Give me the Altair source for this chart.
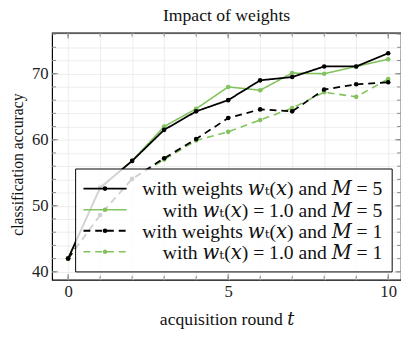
import altair as alt
import pandas as pd

# ---- data ----
rounds = list(range(11))
black_solid = [42.0, 52.7, 56.8, 61.5, 64.3, 66.0, 69.0, 69.5, 71.1, 71.1, 73.1]
green_solid = [42.0, 52.9, 56.8, 62.0, 64.7, 68.0, 67.5, 70.1, 70.0, 71.1, 72.2]
black_dashed = [42.0, 48.6, 54.1, 57.2, 60.1, 63.3, 64.6, 64.3, 67.6, 68.4, 68.7]
green_dashed = [42.0, 48.6, 54.0, 57.0, 59.9, 61.2, 63.0, 64.8, 67.2, 66.5, 69.2]

labels = [
    "with weights 𝑤ₜ(𝑥) and 𝑀 = 5",
    "with 𝑤ₜ(𝑥) = 1.0 and 𝑀 = 5",
    "with weights 𝑤ₜ(𝑥) and 𝑀 = 1",
    "with 𝑤ₜ(𝑥) = 1.0 and 𝑀 = 1",
]
series_values = [black_solid, green_solid, black_dashed, green_dashed]
BLACK = "#000000"
GREEN = "#82c35e"
colors = [BLACK, GREEN, BLACK, GREEN]
dashes = [[1, 0], [1, 0], [7, 5], [7, 5]]
widths = [1.8, 1.6, 1.8, 1.6]

x_ticks = list(range(11))
x_major = [0, 5, 10]
y_ticks = list(range(40, 77, 2))
y_major = [40, 50, 60, 70]

W, H = 356, 252
FONT = "Liberation Serif, DejaVu Serif, serif"
XDOM = [-0.5, 10.4]
YDOM = [38.8, 76.2]

xs = alt.Scale(domain=XDOM, nice=False, zero=False)
ys = alt.Scale(domain=YDOM, nice=False, zero=False)

X_AXIS = alt.Axis(
    values=x_ticks, labelExpr="datum.value % 5 == 0 ? datum.label : ''",
    labelOverlap=False,
    grid=True, gridColor="#e8e8e8", gridWidth=0.8, ticks=False, domain=False,
    labelFont=FONT, labelFontSize=17, labelColor="#222", labelPadding=4,
    title="acquisition round 𝑡", titleFont=FONT, titleFontSize=18,
    titleFontWeight="normal", titleColor="#111", titlePadding=12)
Y_AXIS = alt.Axis(
    values=y_ticks, labelExpr="datum.value % 10 == 0 ? datum.label : ''",
    labelOverlap=False,
    grid=True, gridColor="#e8e8e8", gridWidth=0.8, ticks=False, domain=False,
    labelFont=FONT, labelFontSize=17, labelColor="#222", labelPadding=4,
    title="classification accuracy", titleFont=FONT, titleFontSize=16,
    titleFontWeight="normal", titleColor="#111",
    titleAngle=270, titleAlign="center", titleBaseline="middle",
    titleX=-35, titleY=134)

def X(field="t"):
    return alt.X(f"{field}:Q", scale=xs, axis=X_AXIS)

def Y(field="v"):
    return alt.Y(f"{field}:Q", scale=ys, axis=Y_AXIS)

layers = []

# inward ticks
xt = pd.DataFrame({"t": x_ticks})
xtm = pd.DataFrame({"t": x_major})
yt = pd.DataFrame({"v": y_ticks})
ytm = pd.DataFrame({"v": y_major})
tc = "#888888"
for df, ln in [(xt, 4), (xtm, 6)]:
    layers.append(alt.Chart(df).mark_rule(color=tc, strokeWidth=1).encode(
        x=X(), y=alt.value(H), y2=alt.value(H - ln)))
    layers.append(alt.Chart(df).mark_rule(color=tc, strokeWidth=1).encode(
        x=X(), y=alt.value(0), y2=alt.value(ln)))
for df, ln in [(yt, 4), (ytm, 6)]:
    layers.append(alt.Chart(df).mark_rule(color=tc, strokeWidth=1).encode(
        y=Y(), x=alt.value(0), x2=alt.value(ln)))
    layers.append(alt.Chart(df).mark_rule(color=tc, strokeWidth=1).encode(
        y=Y(), x=alt.value(W), x2=alt.value(W - ln)))

# series (draw order: dashed first, then solid)
for i in [3, 2, 1, 0]:
    df = pd.DataFrame({"t": rounds, "v": series_values[i]})
    layers.append(alt.Chart(df).mark_line(
        color=colors[i], strokeWidth=widths[i], strokeDash=dashes[i],
        point=alt.OverlayMarkDef(filled=True, color=colors[i], size=22, opacity=1),
    ).encode(x=X(), y=Y()))

# legend (manual)
one = pd.DataFrame({"a": [0]})
LX1, LX2, LY1, LY2 = 24, 347, 139, 244
layers.append(alt.Chart(one).mark_rect(fill="white", fillOpacity=0.82, stroke="black", strokeWidth=1).encode(
    x=alt.value(LX1), x2=alt.value(LX2), y=alt.value(LY1), y2=alt.value(LY2)))
row_y = [159, 180.5, 202, 223.5]
for i in range(4):
    layers.append(alt.Chart(one).mark_rule(color=colors[i], strokeWidth=widths[i], strokeDash=dashes[i]).encode(
        x=alt.value(32), x2=alt.value(76), y=alt.value(row_y[i])))
    layers.append(alt.Chart(one).mark_point(filled=True, color=colors[i], size=22, opacity=1).encode(
        x=alt.value(54), y=alt.value(row_y[i])))
    layers.append(alt.Chart(one).mark_text(align="right", baseline="middle", font=FONT, fontSize=20, color="#111").encode(
        x=alt.value(337), y=alt.value(row_y[i] + 1), text=alt.value(labels[i])))

chart = alt.layer(*layers).properties(
    width=W, height=H,
    title=alt.TitleParams("Impact of weights", font=FONT, fontSize=18, fontWeight="normal",
                          color="#111", offset=0),
    autosize=alt.AutoSizeParams(type="none"),
    padding={"left": 45, "top": 22, "right": 0, "bottom": 49},
).configure_view(stroke="black", strokeWidth=1.2).configure_axis(labelOverlap=False)

chart.save("out.html", embed_options={"renderer": "svg", "actions": False})
